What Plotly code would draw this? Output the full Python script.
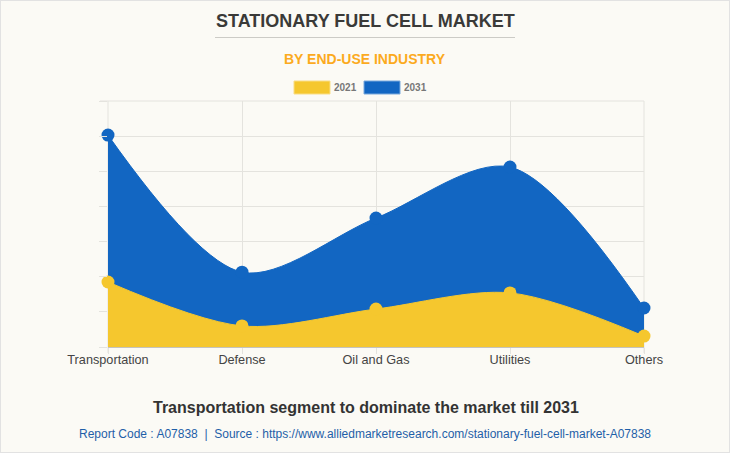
import plotly.graph_objects as go

categories = ["Transportation", "Defense", "Oil and Gas", "Utilities", "Others"]
values_2021 = [1.85, 0.6, 1.08, 1.54, 0.31]
values_2031 = [6.03, 2.13, 3.67, 5.12, 1.11]
series_names = ["2021", "2031"]
title_text = "STATIONARY FUEL CELL MARKET"
subtitle_text = "BY END-USE INDUSTRY"
headline_text = "Transportation segment to dominate the market till 2031"
source_text = "Report Code : A07838  |  Source : https://www.alliedmarketresearch.com/stationary-fuel-cell-market-A07838"

W, H = 730, 453
L, T, R, B = 108, 101, 644, 347
YELLOW, BLUE = "#F5C72E", "#1266C2"
BG = "#FBFAF5"
GRID = "#E4E3DE"
FONT = "Liberation Sans, Arial, sans-serif"


def px(x):
    return (x - L) / (R - L)


def py(y):
    return 1 - (y - T) / (B - T)


fig = go.Figure()
for name, vals, col in [(series_names[1], values_2031, BLUE), (series_names[0], values_2021, YELLOW)]:
    fig.add_trace(go.Scatter(
        x=categories, y=vals, name=name, mode="lines+markers",
        line=dict(color=col, width=1, shape="spline", smoothing=0.9),
        marker=dict(color=col, size=13),
        fill="tozeroy", fillcolor=col, cliponaxis=False, showlegend=False,
    ))


def text(x, y, s, size, color, bold=False, anchor="center"):
    fig.add_annotation(xref="paper", yref="paper", x=px(x), y=py(y), text=f"<b>{s}</b>" if bold else s,
                       showarrow=False, xanchor=anchor, yanchor="middle",
                       font=dict(size=size, color=color, family=FONT))


text(365, 21, title_text, 18, "#3A3A38", True)
text(365, 59, subtitle_text, 14, "#FBAA1E", True)
text(366, 407, headline_text, 16, "#333333", True)
text(365, 434, source_text, 12, "#1F5FA8")
text(332, 87, series_names[0], 10, "#777777", True, "left")
text(402, 87, series_names[1], 10, "#777777", True, "left")

shapes = [
    dict(type="line", xref="paper", yref="paper", x0=px(215), x1=px(515), y0=py(37.5), y1=py(37.5),
         line=dict(color="#CCCBC6", width=1)),
    dict(type="rect", xref="paper", yref="paper", x0=px(294), x1=px(330), y0=py(81), y1=py(94),
         fillcolor=YELLOW, line=dict(color="#F9DD85", width=1)),
    dict(type="rect", xref="paper", yref="paper", x0=px(364), x1=px(400), y0=py(81), y1=py(94),
         fillcolor=BLUE, line=dict(color="#79A8DC", width=1)),
    dict(type="rect", xref="paper", yref="paper", x0=px(0), x1=px(W), y0=py(H), y1=py(0),
         line=dict(color="#E2E2E2", width=2), layer="below"),
    dict(type="line", xref="paper", yref="paper", x0=px(100), x1=px(644), y0=py(101), y1=py(101),
         line=dict(color=GRID, width=1), layer="below"),
    dict(type="line", xref="paper", yref="paper", x0=px(108), x1=px(108), y0=py(101), y1=py(353),
         line=dict(color=GRID, width=1), layer="below"),
    dict(type="line", xref="paper", yref="paper", x0=px(644), x1=px(644), y0=py(101), y1=py(353),
         line=dict(color=GRID, width=1), layer="below"),
]

fig.update_layout(
    width=W, height=H, autosize=False,
    paper_bgcolor=BG, plot_bgcolor=BG,
    margin=dict(l=L, r=W - R, t=T, b=H - B),
    font=dict(family=FONT),
    shapes=shapes,
    hovermode=False,
)
fig.update_xaxes(
    type="category", range=[0, 4], showgrid=True, gridcolor=GRID, gridwidth=1,
    ticks="outside", ticklen=6, tickcolor=GRID, showline=True, linecolor="#C4C3BE", linewidth=1,
    tickfont=dict(size=12.7, color="#444444", family=FONT), zeroline=False, ticklabelstandoff=-5,
)
fig.update_yaxes(
    range=[0, 7], dtick=1, showgrid=True, gridcolor=GRID, gridwidth=1, showticklabels=False,
    ticks="outside", ticklen=8, tickcolor=GRID, showline=False, zeroline=False,
)
fig.write_html("out.html", config={"displayModeBar": False}, post_script="document.body.style.margin='0';")
